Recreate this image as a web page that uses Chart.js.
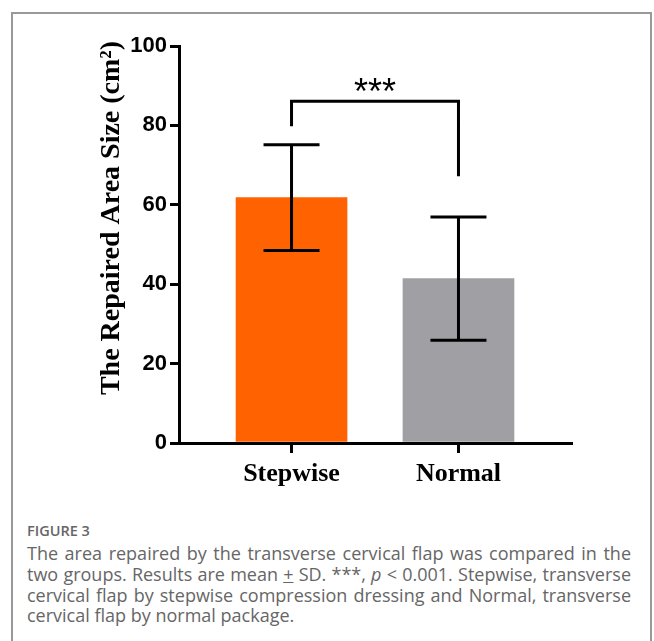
<!DOCTYPE html>
<html>
<head>
<meta charset="utf-8">
<script src="https://cdn.jsdelivr.net/npm/chart.js@4"></script>
<style>
  body { margin: 0; background: #fff; width: 654px; height: 641px; overflow: hidden; position: relative; }
  #frame { position: absolute; left: 11px; top: 12px; width: 641px; height: 640px; border: 2px solid #999; border-bottom: none; box-sizing: border-box; }
  #chart { position: absolute; left: 0; top: 0; }
  #caption { position: absolute; left: 27px; top: 521px; width: 604px; font-family: "Open Sans", sans-serif; color: #666; }
  #caption .fig { font-size: 14.5px; font-weight: 600; line-height: 20px; margin-bottom: 2px; }
  #caption .ln { font-size: 18px; line-height: 20.8px; text-align: justify; text-align-last: justify; white-space: nowrap; }
  #caption .ln.last { text-align-last: left; }
</style>
</head>
<body>
<div id="frame"></div>
<canvas id="chart" width="654" height="500"></canvas>
<div id="caption">
  <div class="fig">FIGURE 3</div>
  <div class="ln">The area repaired by the transverse cervical flap was compared in the</div>
  <div class="ln">two groups. Results are mean <u>+</u> SD. ***, <i>p</i> &lt; 0.001. Stepwise, transverse</div>
  <div class="ln">cervical flap by stepwise compression dressing and Normal, transverse</div>
  <div class="ln last">cervical flap by normal package.</div>
</div>
<script>
const groups = ["Stepwise", "Normal"];
const means = [61.8, 41.4];
const sds = [13.3, 15.5];
const barColors = ["#ff6200", "#a09fa3"];
const yTicks = [0, 20, 40, 60, 80, 100];
const sigLabel = "***";

// error bars + significance bracket, drawn on the library's scales
const extras = {
  id: "extras",
  afterDatasetsDraw(chart) {
    const ctx = chart.ctx;
    const xs = chart.scales.x;
    const ys = chart.scales.y;
    ctx.save();
    ctx.strokeStyle = "#000";
    ctx.lineWidth = 3;
    ctx.lineCap = "butt";
    means.forEach((m, i) => {
      const x = xs.getPixelForValue(i);
      const top = ys.getPixelForValue(m + sds[i]);
      const bot = ys.getPixelForValue(m - sds[i]);
      ctx.beginPath();
      ctx.moveTo(x, top);
      ctx.lineTo(x, bot);
      ctx.moveTo(x - 28, top);
      ctx.lineTo(x + 28, top);
      ctx.moveTo(x - 28, bot);
      ctx.lineTo(x + 28, bot);
      ctx.stroke();
    });

    // bracket
    const x1 = xs.getPixelForValue(0);
    const x2 = xs.getPixelForValue(1);
    const yb = ys.getPixelForValue(86.1);
    ctx.beginPath();
    ctx.moveTo(x1, ys.getPixelForValue(79.8));
    ctx.lineTo(x1, yb);
    ctx.lineTo(x2, yb);
    ctx.lineTo(x2, ys.getPixelForValue(67.2));
    ctx.stroke();

    ctx.fillStyle = "#000";
    ctx.font = '36px "Liberation Sans", Arial, sans-serif';
    ctx.textAlign = "center";
    ctx.textBaseline = "alphabetic";
    ctx.fillText(sigLabel, (x1 + x2) / 2, yb + 3);

    // y axis title
    ctx.translate(112, 218);
    ctx.rotate(-Math.PI / 2);
    ctx.font = 'bold 28px "Liberation Serif", "Times New Roman", serif';
    ctx.textBaseline = "middle";
    ctx.fillText("The Repaired Area Size (cm\u00b2)", 0, 0);
    ctx.restore();
  }
};

new Chart(document.getElementById("chart"), {
  type: "bar",
  data: {
    datasets: [{
      data: means.map((v, i) => ({ x: i, y: v })),
      backgroundColor: barColors,
      borderWidth: 0,
      barThickness: 111
    }]
  },
  options: {
    responsive: false,
    animation: false,
    events: [],
    layout: { padding: { left: 0, top: 46, right: 83, bottom: 0 } },
    plugins: { legend: { display: false }, tooltip: { enabled: false } },
    scales: {
      x: {
        type: "linear",
        offset: false,
        min: -0.674,
        max: 1.674,
        afterBuildTicks: scale => { scale.ticks = groups.map((g, i) => ({ value: i })); },
        afterFit: scale => { scale.height = 57; },
        ticks: {
          callback: v => groups[v],
          color: "#000",
          padding: 6,
          maxRotation: 0,
          font: { family: '"Liberation Serif", "Times New Roman", serif', size: 26, weight: "bold" }
        },
        grid: { offset: false, drawOnChartArea: false, drawTicks: true, tickLength: 10, color: "#000", lineWidth: 3 },
        border: { display: true, color: "#000", width: 3 }
      },
      y: {
        min: 0,
        max: 100,
        afterBuildTicks: scale => { scale.ticks = yTicks.map(v => ({ value: v })); },
        afterFit: scale => { scale.width = 179; },
        ticks: {
          color: "#000",
          padding: 3,
          font: { family: '"Liberation Sans", Arial, sans-serif', size: 22, weight: "bold" }
        },
        grid: { drawOnChartArea: false, drawTicks: true, tickLength: 9, color: "#000", lineWidth: 3 },
        border: { display: true, color: "#000", width: 3 }
      }
    }
  },
  plugins: [extras]
});
</script>
</body>
</html>
